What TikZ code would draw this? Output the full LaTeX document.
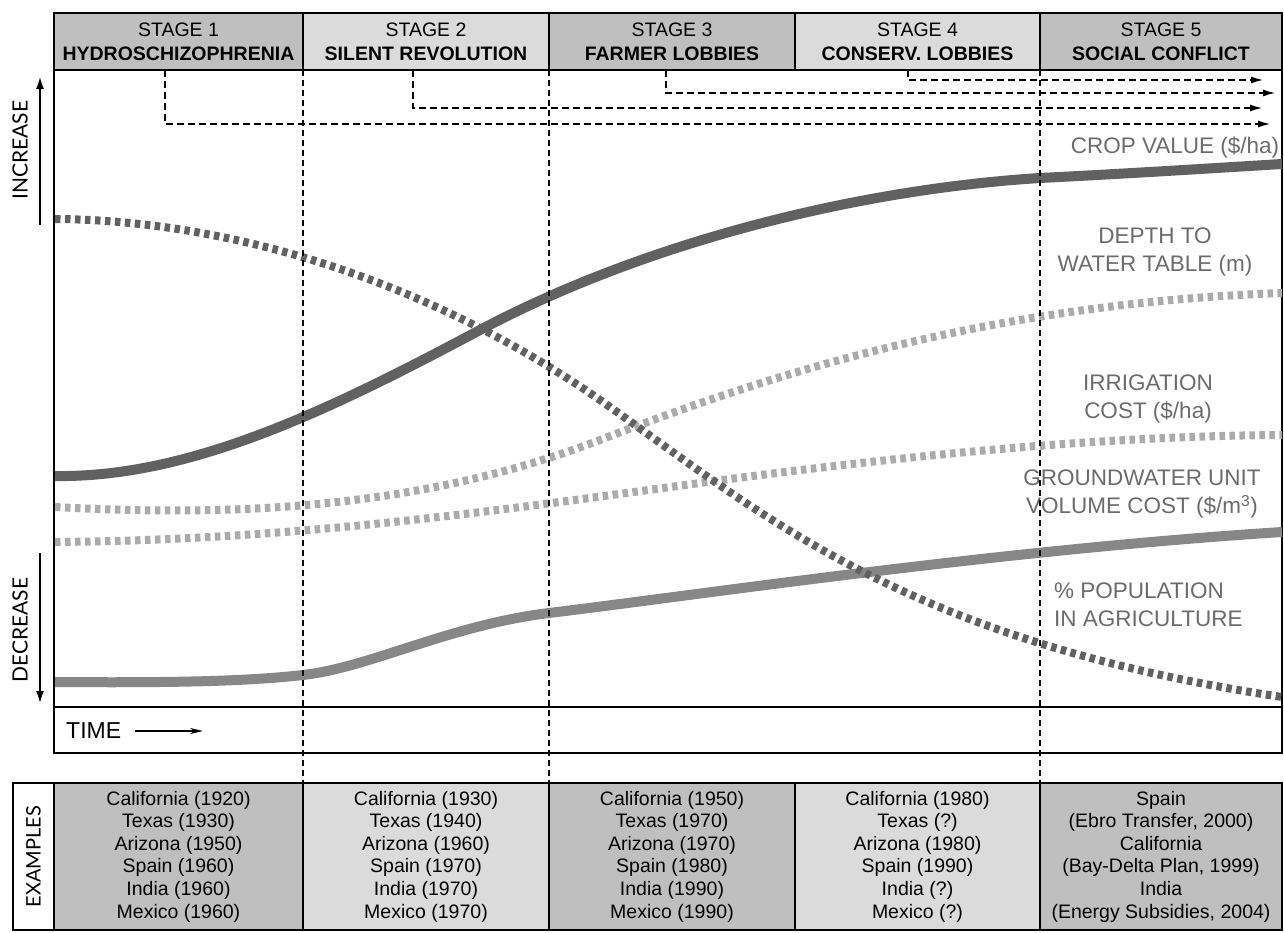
\documentclass[tikz,border=0pt]{standalone}
\usepackage{fontspec}
\setmainfont{Liberation Sans}
\newfontfamily\axisfont{Lato}
\usetikzlibrary{arrows.meta}
\tikzset{>=latex}
\definecolor{darkcell}{gray}{0.75}
\definecolor{lightcell}{gray}{0.86}
\definecolor{curvedark}{gray}{0.38}
\definecolor{curvemid}{gray}{0.53}
\definecolor{curvelight}{gray}{0.67}
\definecolor{labelgray}{gray}{0.42}
\tikzset{
  stagebox/.style={draw, line width=1.6pt, inner sep=0pt, outer sep=0pt, minimum height=57pt,
    align=center, font=\fontsize{19.5}{24}\selectfont},
  examplebox/.style={draw, line width=1.6pt, inner sep=0pt, outer sep=0pt, minimum height=147pt,
    align=center, font=\fontsize{19.5}{22.6}\selectfont},
  curvelabel/.style={text=labelgray, align=center, inner sep=0pt, font=\fontsize{22.5}{28}\selectfont},
  axislabel/.style={rotate=90, inner sep=0pt, font=\axisfont\fontsize{21}{21}\selectfont},
  solidcurve/.style={line width=10pt},
  dottedcurve/.style={line width=8pt, dash pattern=on 5.5pt off 4.5pt},
  stageline/.style={line width=1.5pt, dash pattern=on 6pt off 4pt},
  stagearrow/.style={-{Latex[length=12pt,width=7pt]}, line width=1.3pt, dash pattern=on 7pt off 4pt},
  axisarrow/.style={-{Latex[length=12pt,width=8pt]}, line width=1.6pt},
}

\begin{document}
\begin{tikzpicture}[x=1pt, y=-1pt]
\useasboundingbox (0,0) rectangle (1284,933);
% stages
\node[stagebox, fill=darkcell, minimum width=249pt] (s1) at (178.5,41.5) {STAGE 1\\\textbf{HYDROSCHIZOPHRENIA}};
\node[stagebox, fill=lightcell, minimum width=246pt] (s2) at (426,41.5) {STAGE 2\\\textbf{SILENT REVOLUTION}};
\node[stagebox, fill=darkcell, minimum width=246pt] (s3) at (672,41.5) {STAGE 3\\\textbf{FARMER LOBBIES}};
\node[stagebox, fill=lightcell, minimum width=245pt] (s4) at (917.5,41.5) {STAGE 4\\\textbf{CONSERV. LOBBIES}};
\node[stagebox, fill=darkcell, minimum width=242pt] (s5) at (1161,41.5) {STAGE 5\\\textbf{SOCIAL CONFLICT}};

% frame and time row
\node[draw, line width=1.8pt, inner sep=0pt, outer sep=0pt, minimum width=1228pt, minimum height=637pt] (plot) at (668,388.5) {};
\node[draw, line width=1.8pt, inner sep=0pt, outer sep=0pt, minimum width=1228pt, minimum height=46pt] (timebox) at (668,730) {};
\node[anchor=west, inner sep=2pt, font=\fontsize{23}{23}\selectfont] (time) at (64,731) {TIME};
\coordinate (tend) at (203,731);
\draw[-{Stealth[length=13pt,width=6pt]}, line width=1.3pt] ([xshift=12pt]time.east) -- (tend);

% curves
\draw[solidcurve, curvedark] (55,476) .. controls (190,478) and (330,410) .. (480,330)
  .. controls (640,245) and (850,190) .. (1040,178) .. controls (1120,174) and (1200,169) .. (1282,164);
\draw[dottedcurve, curvelight] (55,507) .. controls (250,518) and (430,505) .. (600,440)
  .. controls (740,386) and (970,304) .. (1282,293);
\draw[dottedcurve, curvelight] (55,542) .. controls (300,540) and (500,510) .. (700,483)
  .. controls (900,456) and (1100,436) .. (1282,435);
\draw[solidcurve, curvemid] (55,682) .. controls (180,683) and (250,681) .. (303,675)
  .. controls (370,667.4) and (450,625) .. (549,613) .. controls (700,594.7) and (1000,550) .. (1282,532);
\draw[dottedcurve, curvedark] (55,219) .. controls (220,220) and (420,275) .. (600,400)
  .. controls (760,512) and (900,640) .. (1282,697);

% curve labels
\node[curvelabel] (cropl) at (1175,148) {CROP VALUE (\$/ha)};
\node[curvelabel] (depthl) at (1155,252) {DEPTH TO\\WATER TABLE (m)};
\node[curvelabel] (irrl) at (1148,399) {IRRIGATION\\COST (\$/ha)};
\node[curvelabel] (gwl) at (1142,494) {GROUNDWATER UNIT\\VOLUME COST (\$/m\textsuperscript{3})};
\node[curvelabel, align=left, anchor=west] (popl) at (1054,605) {\% POPULATION\\IN AGRICULTURE};

% stage arrows
\coordinate (a1) at (165,70);  \coordinate (t1) at (1270,124);
\coordinate (a2) at (413,70);  \coordinate (t2) at (1262,108);
\coordinate (a3) at (666,70);  \coordinate (t3) at (1275,93);
\coordinate (a4) at (908,70);  \coordinate (t4) at (1263,80);
\draw[stagearrow] (a1) |- (t1);
\draw[stagearrow] (a2) |- (t2);
\draw[stagearrow] (a3) |- (t3);
\draw[stagearrow] (a4) |- (t4);

% increase / decrease
\node[axislabel] (inc) at (20,150) {INCREASE};
\node[axislabel] (dec) at (20,630) {DECREASE};
\coordinate (incbot) at (40,225); \coordinate (inctop) at (40,77);
\coordinate (dectop) at (40,553); \coordinate (decbot) at (40,703);
\draw[axisarrow] (incbot) -- (inctop);
\draw[axisarrow] (dectop) -- (decbot);

% examples
\node[draw, line width=1.6pt, inner sep=0pt, outer sep=0pt, rotate=90, minimum width=147pt, minimum height=41pt,
  font=\axisfont\fontsize{20}{20}\selectfont] (exl) at (33.5,856.5) {EXAMPLES};
\node[examplebox, fill=darkcell, minimum width=249pt] (e1) at (178.5,856.5)
  {California (1920)\\Texas (1930)\\Arizona (1950)\\Spain (1960)\\India (1960)\\Mexico (1960)};
\node[examplebox, fill=lightcell, minimum width=246pt] (e2) at (426,856.5)
  {California (1930)\\Texas (1940)\\Arizona (1960)\\Spain (1970)\\India (1970)\\Mexico (1970)};
\node[examplebox, fill=darkcell, minimum width=246pt] (e3) at (672,856.5)
  {California (1950)\\Texas (1970)\\Arizona (1970)\\Spain (1980)\\India (1990)\\Mexico (1990)};
\node[examplebox, fill=lightcell, minimum width=245pt] (e4) at (917.5,856.5)
  {California (1980)\\Texas (?)\\Arizona (1980)\\Spain (1990)\\India (?)\\Mexico (?)};
\node[examplebox, fill=darkcell, minimum width=242pt] (e5) at (1161,856.5)
  {Spain\\(Ebro Transfer, 2000)\\California\\(Bay-Delta Plan, 1999)\\India\\(Energy Subsidies, 2004)};

% stage boundaries
\draw[stageline] (s1.south east) -- (e1.north east);
\draw[stageline] (s2.south east) -- (e2.north east);
\draw[stageline] (s4.south east) -- (e4.north east);
\end{tikzpicture}
\end{document}
